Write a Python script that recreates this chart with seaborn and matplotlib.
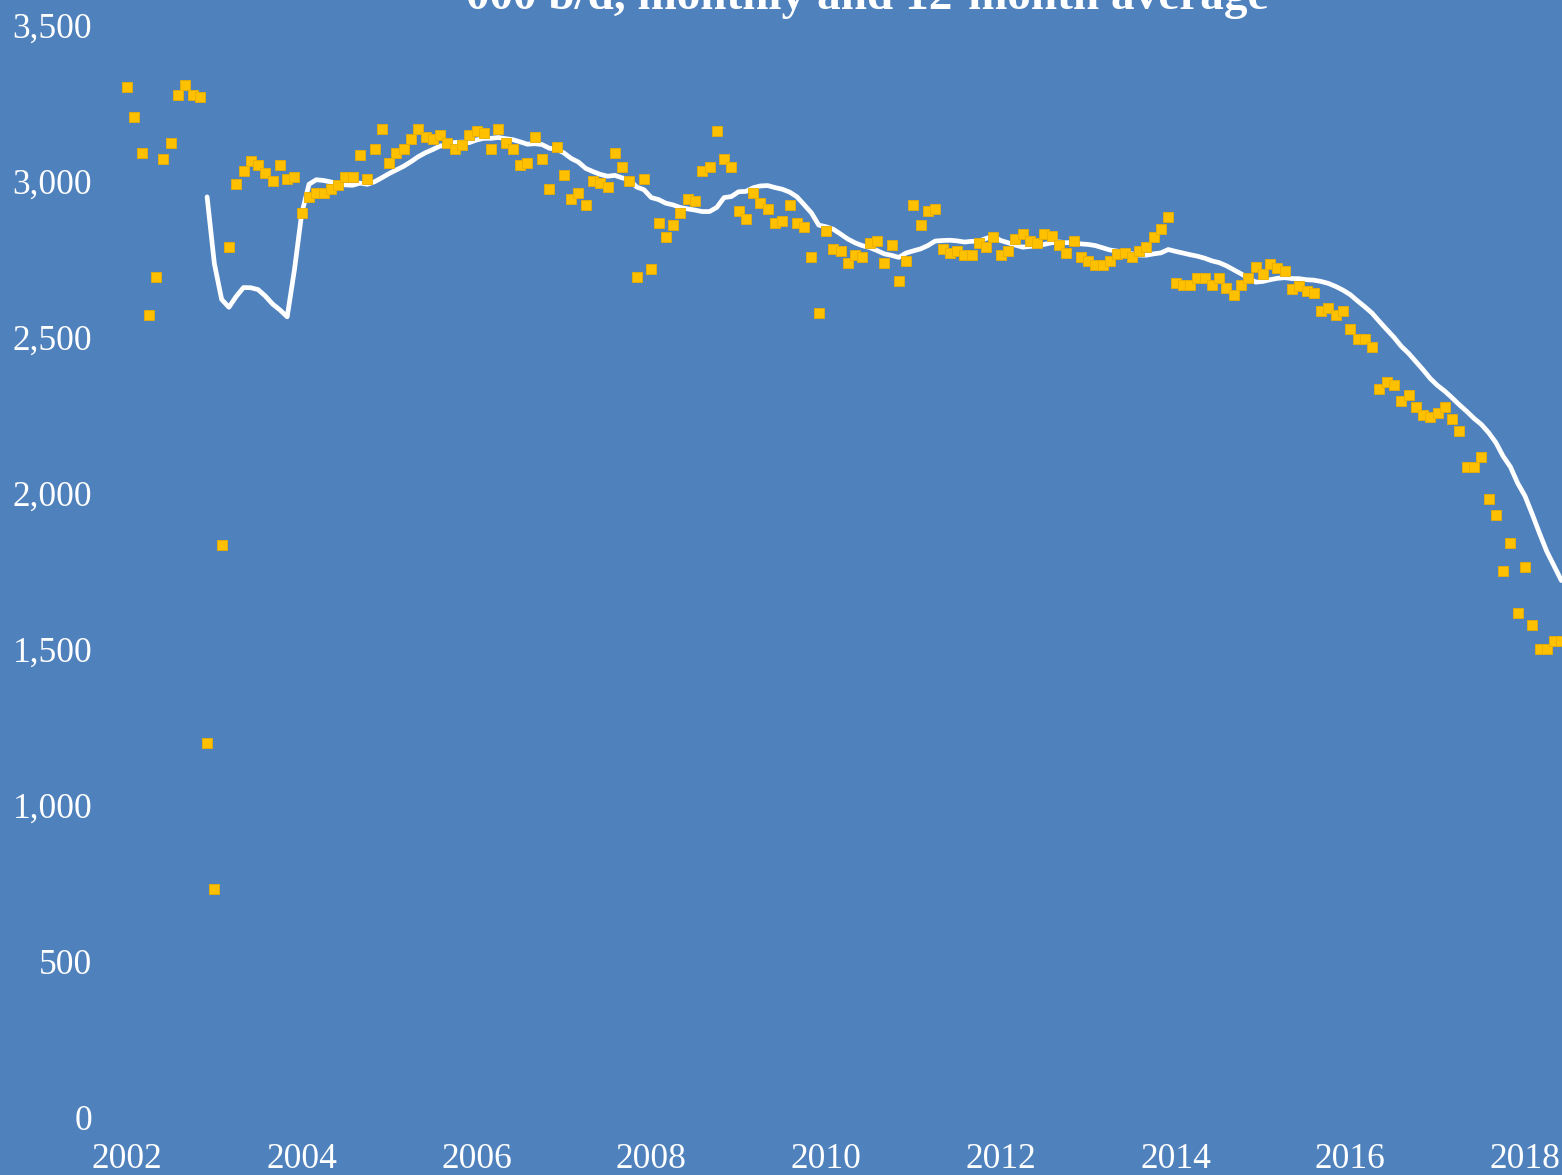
import numpy as np
import pandas as pd
import matplotlib
matplotlib.use("Agg")
import matplotlib.pyplot as plt
import seaborn as sns

# monthly production, '000 b/d, Jan 2002 .. Jun 2018
y2002 = [3302, 3206, 3091, 2571, 2693, 3071, 3123, 3277, 3309, 3277, 3270, 1199]
y2003 = [731, 1833, 2790, 2989, 3033, 3064, 3052, 3027, 3001, 3052, 3006, 3014]
y2004 = [2898, 2950, 2962, 2962, 2975, 2988, 3014, 3014, 3084, 3007, 3103, 3168]
y2005 = [3059, 3091, 3103, 3136, 3168, 3142, 3136, 3149, 3123, 3103, 3116, 3149]
y2006 = [3161, 3155, 3103, 3168, 3123, 3103, 3052, 3059, 3142, 3071, 2975, 3110]
y2007 = [3020, 2943, 2962, 2924, 3001, 2995, 2982, 3091, 3046, 3001, 2693, 3007]
y2008 = [2719, 2866, 2821, 2860, 2898, 2943, 2937, 3033, 3046, 3161, 3071, 3046]
y2009 = [2905, 2879, 2962, 2930, 2911, 2866, 2873, 2924, 2866, 2854, 2757, 2578]
y2010 = [2841, 2783, 2777, 2738, 2764, 2757, 2802, 2809, 2738, 2796, 2680, 2745]
y2011 = [2924, 2860, 2905, 2911, 2783, 2770, 2777, 2764, 2764, 2802, 2789, 2821]
y2012 = [2764, 2777, 2815, 2830, 2809, 2800, 2830, 2824, 2795, 2770, 2809, 2757]
y2013 = [2745, 2731, 2731, 2745, 2766, 2770, 2757, 2777, 2789, 2821, 2847, 2886]
y2014 = [2674, 2667, 2667, 2688, 2688, 2667, 2688, 2656, 2635, 2667, 2688, 2725]
y2015 = [2701, 2734, 2720, 2713, 2654, 2663, 2647, 2640, 2584, 2592, 2571, 2584]
y2016 = [2526, 2494, 2494, 2469, 2333, 2355, 2346, 2296, 2315, 2277, 2251, 2244]
y2017 = [2257, 2277, 2237, 2200, 2084, 2084, 2116, 1982, 1930, 1751, 1841, 1616]
y2018 = [1764, 1578, 1501, 1501, 1527, 1527]

start_year = 2002
title = "000 b/d, monthly and 12-month average"
yticks = [0, 500, 1000, 1500, 2000, 2500, 3000, 3500]
xticks = [2002, 2004, 2006, 2008, 2010, 2012, 2014, 2016, 2018]

values = (y2002 + y2003 + y2004 + y2005 + y2006 + y2007 + y2008 + y2009 + y2010
          + y2011 + y2012 + y2013 + y2014 + y2015 + y2016 + y2017 + y2018)
df = pd.DataFrame({"v": values})
df["t"] = start_year + np.arange(len(df)) / 12
df["avg"] = df["v"].rolling(12).mean()

bg = "#4F81BD"
sns.set_style("white")
plt.rcParams["font.family"] = ["Liberation Serif", "DejaVu Serif"]

W, H = 1562, 1175
fig = plt.figure(figsize=(W / 100, H / 100), dpi=100, facecolor=bg)
# pixel layout: 2002 at x=127, 87.375 px/year; 0 at y=1117, 0.312 px per unit
ax = fig.add_axes([100 / W, (H - 1117) / H, 1 - 100 / W, 1117 / H])
ax.set_facecolor(bg)

sns.lineplot(data=df.dropna(), x="t", y="avg", color="white", linewidth=3.4, ax=ax, zorder=2)
sns.scatterplot(data=df, x="t", y="v", marker="s", s=44, color="#FFC000",
                edgecolor="#E8AE00", linewidth=0.6, ax=ax, zorder=3)

ax.set_xlim(2002 - 27 / 87.375, 2002 + 1435 / 87.375)
ax.set_ylim(0, 3500 + 25 / 0.312)
ax.set_xticks(xticks)
ax.set_xticklabels([str(x) for x in xticks])
ax.set_yticks(yticks)
ax.set_yticklabels([f"{v:,}" for v in yticks])
ax.tick_params(axis="both", length=0, colors="white", labelsize=25.5)
ax.tick_params(axis="y", pad=5.5)
ax.tick_params(axis="x", pad=19)
ax.set_xlabel("")
ax.set_ylabel("")
for s in ax.spines.values():
    s.set_visible(False)
ax.grid(False)

fig.text(867 / W, 1 - 9 / H, title, ha="center", va="baseline", fontsize=34,
         fontweight="bold", color="white")

fig.savefig("out.png", dpi=100, facecolor=bg)
